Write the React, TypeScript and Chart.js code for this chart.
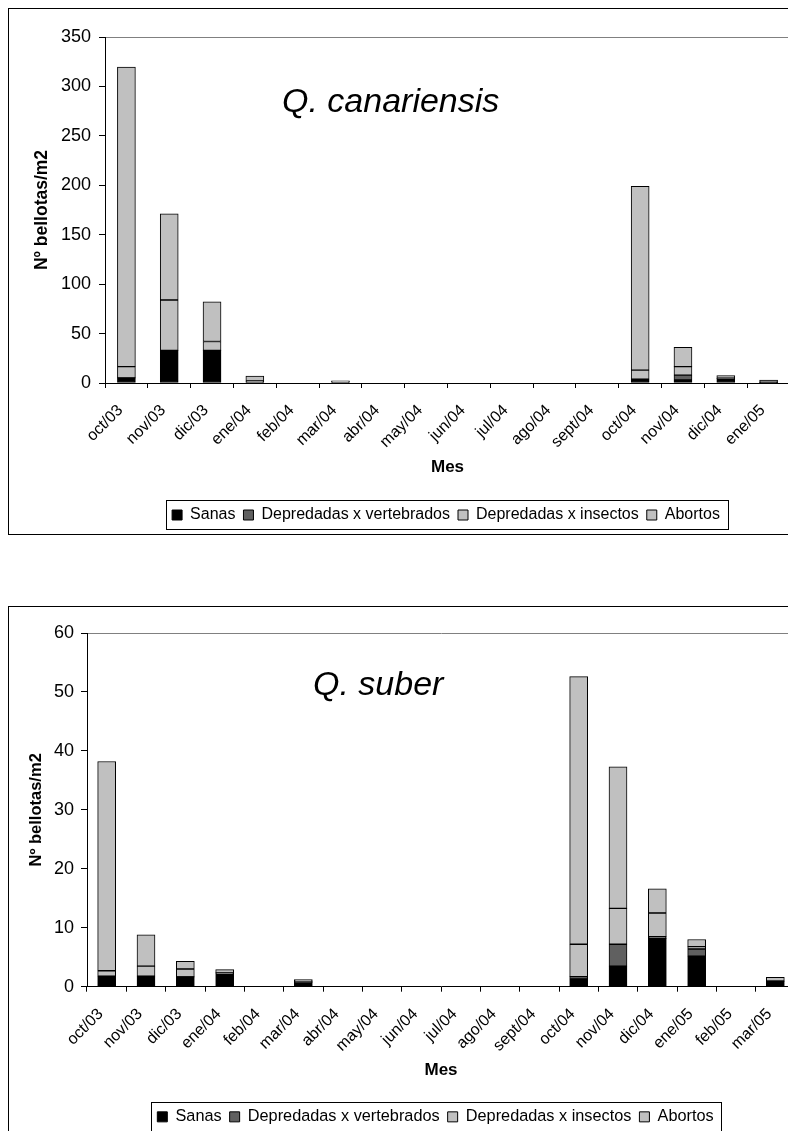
import React, { useEffect, useRef } from "react";
import { Chart, registerables } from "chart.js";

Chart.register(...registerables);

const FONT = "'Liberation Sans', Arial, Helvetica, sans-serif";

// ---------- Data: Q. canariensis ----------
const monthsCan = ["oct/03", "nov/03", "dic/03", "ene/04", "feb/04", "mar/04", "abr/04", "may/04", "jun/04", "jul/04", "ago/04", "sept/04", "oct/04", "nov/04", "dic/04", "ene/05"];
const sanasCan = [5, 33, 33, 1, 0, 1, 0, 0, 0, 0, 0, 0, 4, 3, 4.5, 0.3];
const vertCan = [0.5, 0, 0, 0, 0, 0, 0, 0, 0, 0, 0, 0, 0, 5, 0, 0];
const insectCan = [11, 51, 9, 1, 0, 0, 0, 0, 0, 0, 0, 0, 9, 8.5, 0.5, 0.5];
const abortCan = [303, 87, 40, 5, 0, 1.3, 0, 0, 0, 0, 0, 0, 186, 19.6, 2.4, 2.2];
const yTicksCan = { min: 0, max: 350, step: 50 };

// ---------- Data: Q. suber ----------
const monthsSub = ["oct/03", "nov/03", "dic/03", "ene/04", "feb/04", "mar/04", "abr/04", "may/04", "jun/04", "jul/04", "ago/04", "sept/04", "oct/04", "nov/04", "dic/04", "ene/05", "feb/05", "mar/05"];
const sanasSub = [1.8, 1.8, 1.6, 2.2, 0, 0.7, 0, 0, 0, 0, 0, 0, 1.3, 3.5, 8.2, 5.2, 0, 0.9];
const vertSub = [0, 0, 0.1, 0, 0, 0, 0, 0, 0, 0, 0, 0, 0.4, 3.7, 0.3, 1.2, 0, 0];
const insectSub = [0.9, 1.7, 1.3, 0.2, 0, 0.2, 0, 0, 0, 0, 0, 0, 5.5, 6.1, 4.0, 0.4, 0, 0.1];
const abortSub = [35.5, 5.3, 1.3, 0.5, 0, 0.3, 0, 0, 0, 0, 0, 0, 45.4, 24.0, 4.1, 1.2, 0, 0.6];
const yTicksSub = { min: 0, max: 60, step: 10 };

const seriesNames = ["Sanas", "Depredadas x vertebrados", "Depredadas x insectos", "Abortos"];
const seriesColors = ["#000000", "#606060", "#c0c0c0", "#c0c0c0"];

const frameBorder = {
  id: "frameBorder",
  afterDraw(chart: any) {
    const { ctx, width, height } = chart;
    ctx.save();
    ctx.strokeStyle = "#000";
    ctx.lineWidth = 1;
    ctx.strokeRect(0.5, 0.5, width - 1, height - 1);
    ctx.restore();
  },
};

const legendBorder = {
  id: "legendBorder",
  afterDraw(chart: any) {
    const hb = chart.legend && chart.legend.legendHitBoxes;
    if (!hb || !hb.length) return;
    let l = Infinity, r = -Infinity, t = Infinity, b = -Infinity;
    hb.forEach((h: any) => {
      l = Math.min(l, h.left);
      r = Math.max(r, h.left + h.width);
      t = Math.min(t, h.top);
      b = Math.max(b, h.top + h.height);
    });
    const { ctx } = chart;
    ctx.save();
    ctx.strokeStyle = "#000";
    ctx.lineWidth = 1;
    ctx.strokeRect(Math.round(l - 6) + 0.5, Math.round(t - 7) + 0.5, Math.round(r - l + 14), Math.round(b - t + 13));
    ctx.restore();
  },
};

const innerTitle = {
  id: "innerTitle",
  afterDatasetsDraw(chart: any, _args: any, opts: any) {
    if (!opts || !opts.text) return;
    const { ctx, chartArea } = chart;
    ctx.save();
    ctx.font = `italic ${opts.size}px ${FONT}`;
    ctx.fillStyle = "#000";
    ctx.textBaseline = "alphabetic";
    ctx.textAlign = "left";
    ctx.fillText(opts.text, chartArea.left + opts.dx, chartArea.top + opts.dy);
    ctx.restore();
  },
};

type Cfg = {
  labels: string[];
  series: number[][];
  yRange: { min: number; max: number; step: number };
  yWidth: number;
  rightWidth: number;
  xHeight: number;
  padTop: number;
  padBottom: number;
  yTitlePad: number;
  yTitleSize: number;
  yTickPad: number;
  xTitlePad: number;
  legendSize: number;
  title: string;
  titleDx: number;
  titleDy: number;
};

function buildConfig(c: Cfg): any {
  return {
    type: "bar",
    data: {
      labels: c.labels,
      datasets: c.series.map((vals, i) => ({
        label: seriesNames[i],
        data: vals.map((v) => (v === 0 ? null : v)),
        backgroundColor: seriesColors[i],
        borderColor: "#000",
        borderWidth: 1,
        borderSkipped: false,
        barThickness: 18,
      })),
    },
    options: {
      responsive: false,
      animation: false,
      layout: { padding: { top: c.padTop, bottom: c.padBottom, left: 0, right: 0 } },
      scales: {
        x: {
          stacked: true,
          grid: { display: true, drawOnChartArea: false, drawTicks: true, tickLength: 5, tickColor: "#000", offset: true },
          border: { color: "#000", width: 1 },
          ticks: { autoSkip: false, maxRotation: 45, minRotation: 45, padding: 13, labelOffset: -6, font: { size: 16 }, color: "#000" },
          title: { display: true, text: "Mes", color: "#000", font: { size: 17, weight: "bold" }, padding: { top: 0, bottom: c.xTitlePad } },
          afterFit: (s: any) => { s.height = c.xHeight; },
        },
        y: {
          stacked: true,
          min: c.yRange.min,
          max: c.yRange.max,
          ticks: { stepSize: c.yRange.step, padding: c.yTickPad, font: { size: 18 }, color: "#000" },
          grid: {
            color: (ctx: any) => (ctx.tick && ctx.tick.value === c.yRange.max ? "#808080" : "rgba(0,0,0,0)"),
            tickColor: "#000",
            tickLength: 6,
            drawTicks: true,
          },
          border: { color: "#000", width: 1 },
          title: { display: true, text: "Nº bellotas/m2", color: "#000", font: { size: c.yTitleSize, weight: "bold" }, padding: { top: c.yTitlePad, bottom: 0 } },
          afterFit: (s: any) => { s.width = c.yWidth; },
        },
        y2: {
          position: "right",
          display: true,
          grid: { display: false, drawTicks: false },
          ticks: { display: false },
          border: { display: false },
          afterFit: (s: any) => { s.width = c.rightWidth; },
        },
      },
      plugins: {
        legend: {
          position: "bottom",
          labels: { boxWidth: 10, boxHeight: 10, padding: 8, font: { size: c.legendSize }, color: "#000" },
        },
        tooltip: { enabled: false },
        title: { display: false },
        innerTitle: { text: c.title, dx: c.titleDx, dy: c.titleDy, size: 34 },
      },
    },
    plugins: [frameBorder, legendBorder, innerTitle],
  };
}

function ChartBox(props: { cfg: Cfg; width: number; height: number; top: number }) {
  const ref = useRef<HTMLCanvasElement | null>(null);
  useEffect(() => {
    if (!ref.current) return;
    const chart = new Chart(ref.current, buildConfig(props.cfg));
    return () => chart.destroy();
  }, []);
  return (
    <div style={{ position: "absolute", left: 0, top: props.top, width: props.width, height: props.height }}>
      <canvas ref={ref} width={props.width} height={props.height} style={{ display: "block", width: props.width, height: props.height }} />
    </div>
  );
}

export default function App() {
  useEffect(() => {
    document.documentElement.style.overflow = "hidden";
  }, []);
  Chart.defaults.font.family = FONT;
  Chart.defaults.color = "#000";

  const canCfg: Cfg = {
    labels: monthsCan,
    series: [sanasCan, vertCan, insectCan, abortCan],
    yRange: yTicksCan,
    yWidth: 97,
    rightWidth: 94,
    xHeight: 116,
    padTop: 29,
    padBottom: 2,
    yTitlePad: 24,
    yTitleSize: 17.5,
    yTickPad: 8,
    xTitlePad: 21,
    legendSize: 16,
    title: "Q. canariensis",
    titleDx: 177,
    titleDy: 75,
  };
  const subCfg: Cfg = {
    labels: monthsSub,
    series: [sanasSub, vertSub, insectSub, abortSub],
    yRange: yTicksSub,
    yWidth: 79,
    rightWidth: 68,
    xHeight: 114,
    padTop: 27,
    padBottom: 31,
    yTitlePad: 19,
    yTitleSize: 16.5,
    yTickPad: 7,
    xTitlePad: 20,
    legendSize: 16.3,
    title: "Q. suber",
    titleDx: 226,
    titleDy: 62,
  };

  return (
    <div style={{ position: "fixed", left: 8, top: 8, width: 780, height: 1123, overflow: "hidden" }}>
      <ChartBox cfg={canCfg} width={876} height={527} top={0} />
      <ChartBox cfg={subCfg} width={855} height={560} top={598} />
    </div>
  );
}
